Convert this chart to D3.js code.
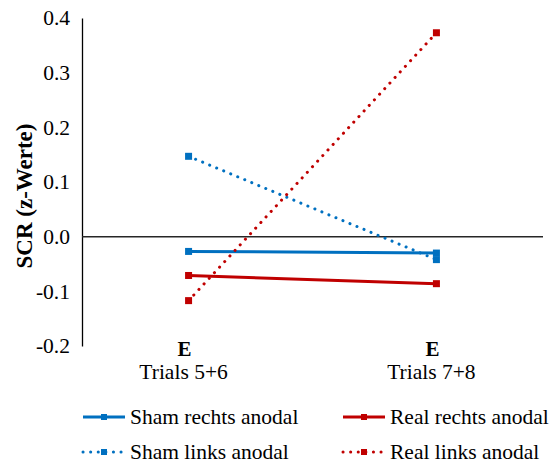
<!DOCTYPE html>
<html>
<head>
<meta charset="utf-8">
<script src="https://cdn.jsdelivr.net/npm/d3@7"></script>
</head>
<body style="margin:0">
<svg width="558" height="465"></svg>
<script>
// categories on the x axis
var phases = ["E", "E"];
var trials = ["Trials 5+6", "Trials 7+8"];

// series values (z-scores)
var shamRechts = [-0.027, -0.030];
var shamLinks = [0.147, -0.042];
var realRechts = [-0.071, -0.086];
var realLinks = [-0.117, 0.373];

var seriesNames = ["Sham rechts anodal", "Real rechts anodal", "Sham links anodal", "Real links anodal"];
var yTicks = [-0.2, -0.1, 0.0, 0.1, 0.2, 0.3, 0.4];

var blue = "#0070C0", red = "#C00000";

var series = [
  { name: seriesNames[0], values: shamRechts, color: blue, dotted: false },
  { name: seriesNames[1], values: realRechts, color: red, dotted: false },
  { name: seriesNames[2], values: shamLinks, color: blue, dotted: true },
  { name: seriesNames[3], values: realLinks, color: red, dotted: true }
];

var margin = { top: 18, left: 82 };
var plotW = 461, plotH = 328;

var svg = d3.select("svg");
var g = svg.append("g").attr("transform", "translate(" + margin.left + "," + margin.top + ")");

var y = d3.scaleLinear().domain([-0.2, 0.4]).range([plotH, 0]);
var x = d3.scalePoint().domain(d3.range(trials.length)).range([0, plotW]).padding(0.43);

// text helper: plain svg text with the Times-like face
function label(sel, size, bold) {
  return sel.append("text")
    .attr("font-family", "Liberation Serif")
    .attr("font-size", size)
    .attr("font-weight", bold ? "bold" : "normal")
    .attr("fill", "#000");
}

// y axis line and tick labels
var yAxis = g.append("g").attr("class", "y axis")
  .call(d3.axisLeft(y).tickValues(yTicks).tickSize(0).tickFormat(""));
yAxis.select(".domain").attr("stroke", "#000").attr("stroke-width", 1.3);
yTicks.forEach(function(t) {
  label(g, 21.5, false)
    .attr("x", -12).attr("y", y(t)).attr("dy", "0.34em")
    .attr("text-anchor", "end")
    .text(t.toFixed(1));
});

// zero line
g.append("line")
  .attr("x1", 0).attr("x2", plotW)
  .attr("y1", y(0)).attr("y2", y(0))
  .attr("stroke", "#262626").attr("stroke-width", 1.5);

// y axis title
label(svg, 23, true)
  .attr("transform", "translate(32,196) rotate(-90)")
  .attr("text-anchor", "middle")
  .text("SCR (z-Werte)");

// category labels
phases.forEach(function(p, i) {
  label(g, 21, true).attr("x", x(i) - 4).attr("y", plotH + 10)
    .attr("text-anchor", "middle").text(p);
  label(g, 21.5, false).attr("x", x(i) - 5).attr("y", plotH + 33)
    .attr("text-anchor", "middle").text(trials[i]);
});

// lines
var line = d3.line().x(function(d, i) { return x(i); }).y(function(d) { return y(d); });

series.forEach(function(s) {
  var sg = g.append("g");
  sg.append("path")
    .datum(s.values)
    .attr("d", line)
    .attr("fill", "none")
    .attr("stroke", s.color)
    .attr("stroke-width", 3)
    .attr("stroke-linecap", s.dotted ? "round" : "butt")
    .attr("stroke-dasharray", s.dotted ? "0.1,7.5" : null);
  sg.selectAll("rect").data(s.values).enter().append("rect")
    .attr("x", function(d, i) { return x(i) - 3.5; })
    .attr("y", function(d) { return y(d) - 3.5; })
    .attr("width", 7).attr("height", 7)
    .attr("fill", s.color);
});

// legend
var legPos = [[83, 417], [343, 417], [83, 452], [343, 452]];
series.forEach(function(s, i) {
  var lg = svg.append("g").attr("transform", "translate(" + legPos[i][0] + "," + legPos[i][1] + ")");
  lg.append("line")
    .attr("x1", 0).attr("x2", 42).attr("y1", 0).attr("y2", 0)
    .attr("stroke", s.color).attr("stroke-width", 3)
    .attr("stroke-linecap", s.dotted ? "round" : "butt")
    .attr("stroke-dasharray", s.dotted ? "0.1,7.5" : null);
  lg.append("rect").attr("x", 18).attr("y", -3).attr("width", 6).attr("height", 6).attr("fill", s.color);
  label(lg, 21.5, false).attr("x", 47).attr("y", 7).text(s.name);
});
</script>
</body>
</html>
